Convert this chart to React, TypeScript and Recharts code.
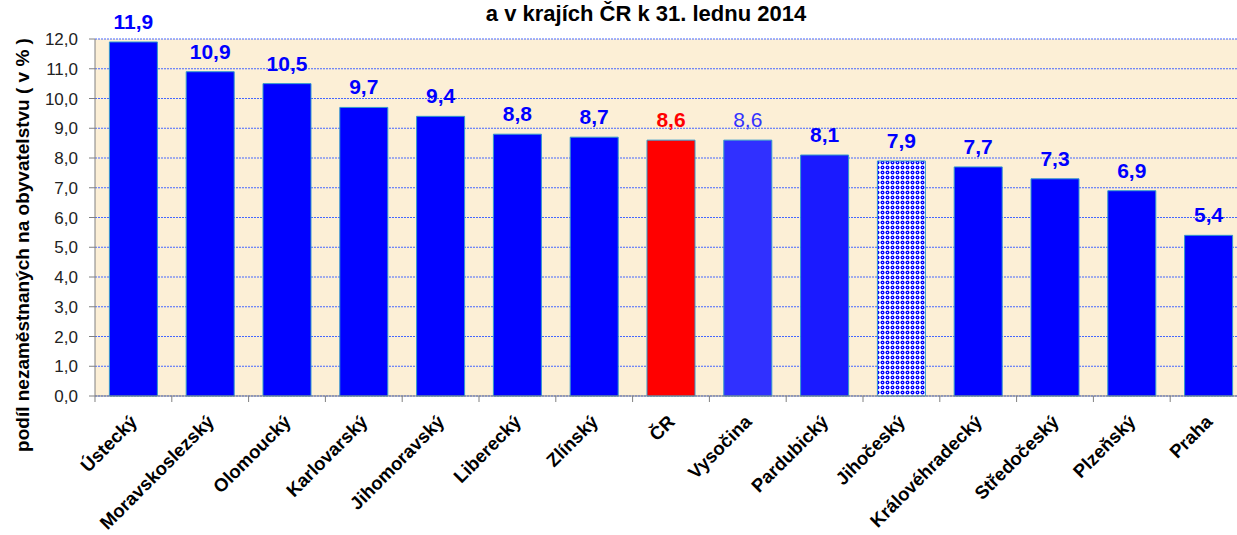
import { BarChart, Bar, XAxis, YAxis, CartesianGrid, Cell, LabelList } from "recharts";

const regions = [
  "Ústecký",
  "Moravskoslezský",
  "Olomoucký",
  "Karlovarský",
  "Jihomoravský",
  "Liberecký",
  "Zlínský",
  "ČR",
  "Vysočina",
  "Pardubický",
  "Jihočeský",
  "Královéhradecký",
  "Středočeský",
  "Plzeňský",
  "Praha",
];
const values = [11.9, 10.9, 10.5, 9.7, 9.4, 8.8, 8.7, 8.6, 8.6, 8.1, 7.9, 7.7, 7.3, 6.9, 5.4];
const yTicks = [0, 1, 2, 3, 4, 5, 6, 7, 8, 9, 10, 11, 12];

const title = "a v krajích ČR k 31. lednu 2014";
const yTitle = "podíl nezaměstnaných na obyvatelstvu ( v % )";

const FONT = "Arial, 'Liberation Sans', sans-serif";
const W = 1260;
const H = 535;
const X_AXIS_H = 30;
const M = { top: 39, right: 13, bottom: 139 - X_AXIS_H, left: 0 };
const Y_AXIS_W = 95;
const BAND = (W - M.right - Y_AXIS_W) / regions.length;

const barFill = (name: string) => {
  if (name === "ČR") return "#ff0000";
  if (name === "Vysočina") return "#3030ff";
  if (name === "Pardubický") return "#1a1aff";
  if (name === "Jihočeský") return "url(#dots)";
  return "#0000ff";
};

const labelStyle = (name: string) => {
  if (name === "ČR") return { fill: "#ff0000", fontWeight: 700 };
  if (name === "Vysočina") return { fill: "#3333ff", fontWeight: 400 };
  return { fill: "#0000ff", fontWeight: 700 };
};

const fmt = (v: number) => v.toFixed(1).replace(".", ",");

const data = regions.map((name, i) => ({ name, value: values[i] }));

function XTick(props: any) {
  const { x, y, payload } = props;
  return (
    <g transform={`translate(${x},${y})`}>
      <line x1={-BAND / 2} y1={-8} x2={-BAND / 2} y2={-2} stroke="#808080" />
      <text
        x={0}
        y={0}
        transform="translate(5,19) rotate(-45)"
        textAnchor="end"
        fontFamily={FONT}
        fontSize={18.5}
        fontWeight={700}
        fill="#000"
      >
        {payload.value}
      </text>
    </g>
  );
}

function ValueLabel(props: any) {
  const { x, y, width, value, index } = props;
  const st = labelStyle(regions[index]);
  return (
    <text
      x={x + width / 2}
      y={y - 13}
      textAnchor="middle"
      fontFamily={FONT}
      fontSize={21}
      fontWeight={st.fontWeight}
      fill={st.fill}
    >
      {fmt(value)}
    </text>
  );
}

export default function App() {
  return (
    <div
      style={{
        position: "fixed",
        left: 0,
        top: 0,
        width: 1237,
        height: 535,
        overflow: "hidden",
        background: "#fff",
      }}
    >
      <BarChart width={W} height={H} data={data} margin={M} barCategoryGap="18.75%">
        <defs>
          <pattern id="dots" width="5" height="5" patternUnits="userSpaceOnUse">
            <rect width="5" height="5" fill="#ffffff" />
            <circle cx="2.5" cy="2.5" r="2" fill="#0000ff" />
            <circle cx="2.5" cy="2.5" r="0.6" fill="#ffffff" />
          </pattern>
        </defs>
        <CartesianGrid
          vertical={false}
          fill="#fcefd6"
          stroke="#4466ff"
          strokeDasharray="2 1"
        />
        <XAxis
          dataKey="name"
          height={X_AXIS_H}
          interval={0}
          tickLine={false}
          axisLine={{ stroke: "#808080" }}
          tick={<XTick />}
        />
        <YAxis
          width={Y_AXIS_W}
          domain={[0, 12]}
          ticks={yTicks}
          tickFormatter={fmt}
          axisLine={{ stroke: "#808080" }}
          tickLine={{ stroke: "#808080" }}
          tickSize={6}
          tickMargin={11}
          tick={{ fontFamily: FONT, fontSize: 17, fill: "#222" }}
        />
        <Bar dataKey="value" isAnimationActive={false} stroke="#3399cc" strokeWidth={1}>
          {data.map((d) => (
            <Cell key={d.name} fill={barFill(d.name)} />
          ))}
          <LabelList dataKey="value" content={<ValueLabel />} />
        </Bar>
      </BarChart>
      <svg
        width={1237}
        height={535}
        style={{ position: "absolute", left: 0, top: 0, pointerEvents: "none" }}
      >
        <text
          x={646}
          y={21}
          textAnchor="middle"
          fontFamily={FONT}
          fontSize={22}
          fontWeight={700}
          fill="#000"
        >
          {title}
        </text>
        <text
          transform="translate(29,245) rotate(-90)"
          textAnchor="middle"
          fontFamily={FONT}
          fontSize={19}
          fontWeight={700}
          fill="#000"
        >
          {yTitle}
        </text>
      </svg>
    </div>
  );
}
